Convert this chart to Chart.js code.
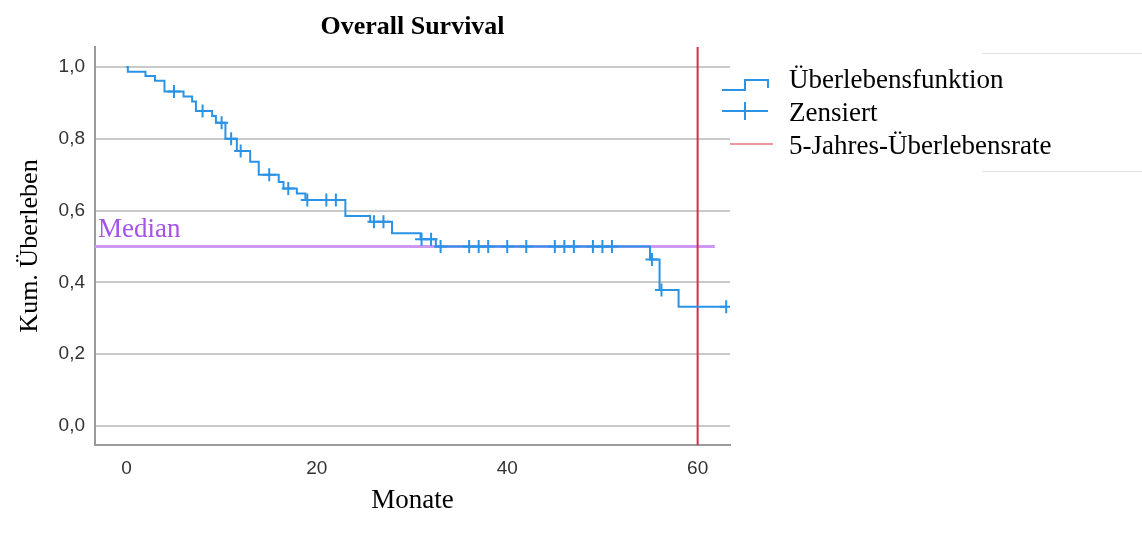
<!DOCTYPE html>
<html>
<head>
<meta charset="utf-8">
<script src="https://cdn.jsdelivr.net/npm/chart.js@4"></script>
<style>
  html, body { margin: 0; padding: 0; background: #ffffff; }
  #wrap { width: 1142px; height: 541px; position: relative; }
</style>
</head>
<body>
<div id="wrap"><canvas id="km"></canvas></div>
<script>
// Kaplan-Meier estimate: event times (months) and survival after each step
const stepTimes = [0, 0.15, 2.0, 3.0, 4.0, 6.0, 6.9, 7.3, 9.0, 9.4, 10.4, 11.6, 13.0, 13.9, 16.0, 16.5, 17.9, 18.8, 23.0, 25.6, 27.9, 30.9, 32.5, 55.0, 56.0, 58.0, 63.0];
const survival  = [1.0, 0.987, 0.975, 0.962, 0.932, 0.918, 0.904, 0.878, 0.864, 0.845, 0.80, 0.766, 0.736, 0.70, 0.68, 0.662, 0.648, 0.63, 0.585, 0.569, 0.537, 0.52, 0.50, 0.464, 0.379, 0.332, 0.332];

// Censored observations (months)
const censorTimes = [5, 8, 10, 11, 12, 15, 17, 19, 21, 22, 26, 27, 31, 32, 33, 36, 37, 38, 40, 42, 45, 46, 47, 49, 50, 51, 55.2, 56.2, 63];

// Reference lines
const medianLevel = 0.5;
const medianEnd = 61.8;
const fiveYearMonth = 60;

// Axes
const xTicks = [0, 20, 40, 60];
const yTicks = [0, 0.2, 0.4, 0.6, 0.8, 1.0];
const xRange = [-3.3, 63.4];
const yRange = [-0.053, 1.056];

const titleText = 'Overall Survival';
const xTitle = 'Monate';
const yTitle = 'Kum. Überleben';
const medianLabel = 'Median';
const legendLabels = ['Überlebensfunktion', 'Zensiert', '5-Jahres-Überlebensrate'];

const BLUE = '#2b93e6';
const RED = '#d92b4b';
const PURPLE_LINE = '#cd98f3';
const PURPLE_TEXT = '#a552ea';
const GRID = '#c9c9c9';
const SERIF = '"Liberation Serif", "Times New Roman", serif';
const SANS = '"Liberation Sans", Arial, sans-serif';

// survival at time t (value of the step function)
function survivalAt(t) {
  let s = survival[0];
  for (let i = 0; i < stepTimes.length; i++) {
    if (stepTimes[i] <= t) s = survival[i];
  }
  return s;
}

const curvePoints = stepTimes.map((t, i) => ({ x: t, y: survival[i] }));
const censorPoints = censorTimes.map(t => ({ x: t, y: survivalAt(t) }));

// title, median label, legend and frame decorations
const decorations = {
  id: 'decorations',
  afterDraw(chart) {
    const ctx = chart.ctx;
    const area = chart.chartArea;
    const ys = chart.scales.y;
    ctx.save();

    // title
    ctx.fillStyle = '#000';
    ctx.font = 'bold 26px ' + SERIF;
    ctx.textAlign = 'center';
    ctx.textBaseline = 'middle';
    ctx.fillText(titleText, (area.left + area.right) / 2, 27);

    // median label
    ctx.fillStyle = PURPLE_TEXT;
    ctx.font = '27px ' + SERIF;
    ctx.textAlign = 'left';
    ctx.textBaseline = 'alphabetic';
    ctx.fillText(medianLabel, area.left + 3, ys.getPixelForValue(medianLevel) - 10);

    // legend
    const lx = 722, tx = 789;
    const rows = [81, 114, 147];
    ctx.lineCap = 'butt';
    // step symbol
    ctx.strokeStyle = BLUE;
    ctx.lineWidth = 2;
    ctx.beginPath();
    ctx.moveTo(lx, rows[0] + 9);
    ctx.lineTo(lx + 23, rows[0] + 9);
    ctx.lineTo(lx + 23, rows[0] - 1);
    ctx.lineTo(lx + 46, rows[0] - 1);
    ctx.lineTo(lx + 46, rows[0] + 7);
    ctx.stroke();
    // censor symbol
    ctx.beginPath();
    ctx.moveTo(lx, rows[1] - 3);
    ctx.lineTo(lx + 46, rows[1] - 3);
    ctx.moveTo(lx + 23, rows[1] - 12);
    ctx.lineTo(lx + 23, rows[1] + 6);
    ctx.stroke();
    // five-year line symbol
    ctx.strokeStyle = '#ea9a9f';
    ctx.beginPath();
    ctx.moveTo(lx + 8, rows[2] - 3);
    ctx.lineTo(lx + 51, rows[2] - 3);
    ctx.stroke();

    ctx.fillStyle = '#000';
    ctx.font = '27px ' + SERIF;
    ctx.textAlign = 'left';
    ctx.textBaseline = 'middle';
    legendLabels.forEach((t, i) => ctx.fillText(t, tx, rows[i]));

    // faint frame edges at the right
    ctx.strokeStyle = '#e2e2e2';
    ctx.lineWidth = 1;
    ctx.beginPath();
    ctx.moveTo(982, 53.5); ctx.lineTo(1142, 53.5);
    ctx.moveTo(982, 171.5); ctx.lineTo(1142, 171.5);
    ctx.stroke();
    ctx.restore();
  }
};

new Chart(document.getElementById('km'), {
  type: 'line',
  data: {
    datasets: [
      {
        label: legendLabels[0],
        data: curvePoints,
        stepped: 'before',
        borderColor: BLUE,
        borderWidth: 2,
        pointRadius: 0,
        fill: false,
        order: 1
      },
      {
        label: legendLabels[1],
        type: 'scatter',
        data: censorPoints,
        pointStyle: 'cross',
        pointRadius: 6.5,
        pointBorderWidth: 2,
        borderColor: BLUE,
        backgroundColor: BLUE,
        showLine: false,
        order: 0
      },
      {
        label: medianLabel,
        data: [{ x: xRange[0], y: medianLevel }, { x: medianEnd, y: medianLevel }],
        borderColor: PURPLE_LINE,
        borderWidth: 3,
        pointRadius: 0,
        order: 3
      },
      {
        label: legendLabels[2],
        data: [{ x: fiveYearMonth, y: yRange[0] }, { x: fiveYearMonth, y: yRange[1] }],
        borderColor: RED,
        borderWidth: 2,
        pointRadius: 0,
        order: 2
      }
    ]
  },
  options: {
    responsive: true,
    maintainAspectRatio: false,
    animation: false,
    layout: { padding: { top: 47, right: 412, bottom: 0, left: 0 } },
    plugins: {
      legend: { display: false },
      tooltip: { enabled: false },
      title: { display: false }
    },
    scales: {
      x: {
        type: 'linear',
        min: xRange[0],
        max: xRange[1],
        afterBuildTicks: s => { s.ticks = xTicks.map(v => ({ value: v })); },
        afterFit: s => { s.height = 96; },
        grid: { display: false },
        border: { display: true, color: '#9a9a9a', width: 2 },
        ticks: {
          color: '#333',
          font: { family: SANS, size: 19 },
          padding: 4,
          maxRotation: 0,
          callback: v => String(v)
        },
        title: {
          display: true,
          text: xTitle,
          color: '#000',
          font: { family: SERIF, size: 27 },
          padding: { top: 0, bottom: 24 }
        }
      },
      y: {
        type: 'linear',
        min: yRange[0],
        max: yRange[1],
        afterBuildTicks: s => { s.ticks = yTicks.map(v => ({ value: v })); },
        afterFit: s => { s.width = 95; },
        grid: { color: GRID, lineWidth: 2, drawTicks: false },
        border: { display: true, color: '#9a9a9a', width: 2 },
        ticks: {
          color: '#333',
          font: { family: SANS, size: 19 },
          padding: 10,
          callback: v => v.toFixed(1).replace('.', ',')
        },
        title: {
          display: true,
          text: yTitle,
          color: '#000',
          font: { family: SERIF, size: 26 },
          padding: { top: 15, bottom: 0 }
        }
      }
    }
  },
  plugins: [decorations]
});
</script>
</body>
</html>
